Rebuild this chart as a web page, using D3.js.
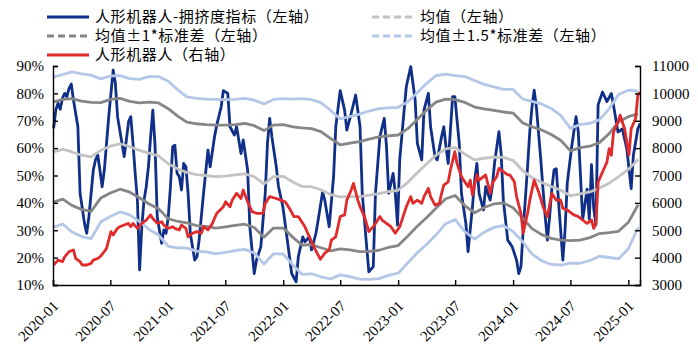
<!DOCTYPE html>
<html>
<head>
<meta charset="utf-8">
<script src="https://cdn.jsdelivr.net/npm/d3@7"></script>
<style>
  body { margin: 0; background: #fff; }
</style>
</head>
<body>
<div id="chart"></div>
<script>
// weekly data, week 0 = 2020-01-03
const firstWeek = new Date(2020, 0, 3);

// 人形机器人-拥挤度指标 (%), [week, value]
const crowding = [
  [0,67.2],[1,74],[2,76.4],[3,74.2],[4,78.2],[5,80],[6,78.8],[7,81.8],[8,83.4],[9,77.6],[11,67.8],[12,43.5],
  [14,32.5],[15,28.9],[16,34.9],[18,52],[19,55.7],[20,57.5],[21,52],[22,45.9],[23,52],[24,61.7],[25,71.5],
  [26,80],[27,88.5],[28,83.7],[29,71.5],[30,66.6],[32,56.9],[33,63],[34,69.7],[35,71.5],[36,61.7],[37,50.8],
  [38,41],[39,15.5],[40,31.3],[41,41],[42,45.9],[43,53.2],[44,64.2],[45,73.9],[46,61],[47,34.9],[49,25.2],
  [50,30.1],[51,28.9],[52,34.9],[53,45.9],[54,60.5],[55,61.1],[56,50.8],[57,49.6],[58,44.7],[59,54.4],
  [60,53.2],[61,43.5],[62,28.9],[64,19.1],[65,20.3],[66,26.4],[68,43.5],[70,59.3],[71,53.2],[73,64.2],
  [74,68.4],[76,75.1],[77,81],[79,80],[80,67.8],[82,64.8],[83,67.8],[85,58],[86,63],[88,52],[89,31.3],
  [91,14.2],[92,19],[94,24],[96,43.5],[97,61.7],[98,70.9],[99,64.2],[101,53.2],[102,46],[104,38.6],
  [106,26.4],[108,14.2],[110,11.2],[111,20.3],[113,27.6],[114,25.8],[116,27.6],[117,22.8],[119,28.9],
  [120,33.7],[122,44],[123,41],[125,31.3],[127,49.6],[128,67.8],[130,81],[132,73.9],[133,66.6],[135,72.7],
  [137,79.4],[139,67.8],[140,43.5],[142,24],[143,14.8],[145,16.7],[146,43.5],[148,64.2],[150,70.9],
  [151,60.5],[152,43.5],[153,47.1],[154,50.8],[155,43.5],[156,31.9],[157,55.7],[159,73.9],[160,82.5],
  [162,89.8],[164,77.6],[165,61.7],[167,55.7],[168,73.9],[170,80],[171,67.8],[173,56.9],[174,55.7],
  [176,64.2],[177,67.8],[178,60.5],[179,54.4],[181,78.8],[182,78.8],[184,61.7],[185,43.5],[187,32.5],
  [188,22.2],[190,38.6],[191,48.3],[192,54.4],[193,43.5],[195,37.4],[196,45.9],[198,41],[199,45.9],
  [200,54.4],[202,66],[203,58],[204,41],[206,26.4],[207,25.2],[208,24],[210,19.1],[211,14.2],[212,16.7],
  [213,30],[215,53.2],[216,66],[217,75],[218,81.2],[219,75],[221,55.7],[222,45],[223,35],[224,26.4],
  [225,35],[226,45],[227,52],[228,52.5],[229,41],[231,19.1],[232,30],[233,47.1],[235,60.5],[237,71.5],
  [238,66],[240,34],[242,45],[243,34],[244,54],[245,38],[246,32],[247,75.8],[249,80.5],[251,77],
  [253,80],[254,75.6],[256,65.9],[258,67],[260,59.8],[262,45.2],[263,57.4],[265,67],[266,69]
];

// 人形机器人 index (right axis), [week, value]
const robotIndex = [
  [0,3730],[2,3910],[4,3850],[5,4030],[7,4220],[9,4280],[10,3970],[12,3850],[13,3730],[15,3730],[17,3790],
  [18,3910],[20,3970],[21,4030],[23,4220],[24,4340],[26,4950],[27,4830],[29,5070],[30,5130],[32,5190],
  [34,5250],[35,5130],[36,5250],[38,5070],[40,5250],[42,5370],[44,5560],[45,5430],[47,5250],[49,5310],
  [50,5190],[52,5070],[54,5130],[55,5070],[57,5010],[58,5190],[60,5070],[61,4760],[63,4890],[65,4950],
  [67,4890],[68,5130],[70,5010],[72,5250],[74,5620],[77,5860],[78,6040],[80,5860],[81,6100],[83,6350],
  [85,6160],[86,6470],[88,6040],[90,5680],[92,5620],[95,5620],[96,5980],[98,6230],[101,6160],[103,6100],
  [105,6040],[107,5800],[109,5500],[111,5500],[114,5130],[116,4760],[118,4400],[121,3940],[123,4160],
  [125,4280],[126,4640],[128,4760],[130,5500],[132,5560],[133,6100],[135,6470],[136,6710],[138,6100],
  [139,5860],[141,5500],[143,4950],[145,5130],[146,5250],[148,5500],[149,5370],[151,5250],[153,5130],
  [155,4890],[157,5130],[158,5370],[160,5860],[162,6230],[163,5980],[165,6100],[167,5980],[168,6230],
  [170,6530],[171,6230],[173,5920],[175,5980],[176,6350],[177,6650],[179,6770],[180,7200],[182,7870],
  [183,7440],[185,6960],[186,6830],[188,6590],[189,6830],[190,6290],[192,7020],[193,6830],[195,6960],
  [196,7020],[198,6350],[199,6710],[201,6960],[202,7260],[204,7140],[206,7020],[207,7020],[209,6770],
  [210,6230],[212,5620],[213,4890],[215,5620],[216,6100],[218,6830],[220,6410],[222,5860],[224,5500],
  [226,6350],[228,6100],[230,6100],[231,5800],[233,5740],[235,5620],[236,5560],[238,5500],[241,5310],
  [242,5250],[244,5370],[245,5070],[246,5250],[247,6760],[249,7130],[251,7490],[252,7980],[253,7740],
  [254,8590],[256,8960],[257,9200],[259,8710],[261,7740],[262,8710],[264,9080],[265,9930],[266,10050]
];

// monthly band values, first month 2020-01
const bandStart = '2020-01';
const meanLine = [
  58.5,59.6,58.6,57.4,56.8,59.2,60.7,61.6,60.5,59.2,58.2,57.2,
  54.3,52.4,51.1,50.3,50.0,49.6,49.8,50.2,50.6,49.6,46.9,49.6,
  49.7,47.6,46.0,45.9,44.8,43.0,42.2,42.3,42.3,42.8,43.4,44.1,
  44.6,47.5,50.8,54.2,57.4,59.7,60.2,57.8,55.7,56.3,56.7,56.6,
  55.5,51.8,49.2,47.5,46.0,44.6,42.6,43.3,44.0,45.4,47.2,49.6,
  52.2,55.9
];
const stdDev = [
  18.3,18.2,19.5,19.8,19.9,17.4,17.1,16.6,16.6,17.3,18.6,19.3,
  20.1,19.2,18.4,18.6,18.6,18.8,18.6,18.4,18.4,18.6,19.5,18.8,
  18.9,20.2,21.4,21.2,21.2,20.5,19.0,19.5,20.1,20.5,20.7,20.4,
  20.2,19.6,19.5,19.6,19.4,18.2,17.5,18.9,19.3,18.0,17.1,16.6,
  17.3,17.4,18.6,19.1,19.0,18.2,16.4,16.9,16.7,16.6,18.1,20.0,
  19.3,16.6
];

const xTickLabels = ['2020-01','2020-07','2021-01','2021-07','2022-01','2022-07',
                     '2023-01','2023-07','2024-01','2024-07','2025-01'];
const leftTicks = [10, 20, 30, 40, 50, 60, 70, 80, 90];
const rightTicks = [3000, 4000, 5000, 6000, 7000, 8000, 9000, 10000, 11000];

const colors = {
  crowd: '#0f2f89',
  robot: '#e12b2b',
  mean: '#c3c3c3',
  sd1: '#868686',
  sd15: '#b4c7e7'
};

const width = 698, height = 363;
const plot = { left: 53, right: 640, top: 66, bottom: 285 };

const svg = d3.select('#chart')
  .append('svg')
  .attr('width', width)
  .attr('height', height)
  .style('background', '#fff');

const parseMonth = d3.timeParse('%Y-%m');
const weekDate = w => d3.timeDay.offset(firstWeek, w * 7);

const xScale = d3.scaleTime()
  .domain([new Date(2020, 0, 1), weekDate(266)])
  .range([plot.left, plot.right]);
const yLeft = d3.scaleLinear().domain([10, 90]).range([plot.bottom, plot.top]);
const yRight = d3.scaleLinear().domain([3000, 11000]).range([plot.bottom, plot.top]);

// bands
const months = meanLine.map((m, i) => d3.timeMonth.offset(parseMonth(bandStart), i));
const bandLine = k => d3.line()
  .x((d, i) => xScale(months[i]))
  .y((d, i) => yLeft(meanLine[i] + k * stdDev[i]));

const weekLine = yScale => d3.line()
  .x(d => xScale(weekDate(d[0])))
  .y(d => yScale(d[1]));

const lines = svg.append('g').attr('fill', 'none').attr('stroke-linejoin', 'round');

lines.append('path')
  .attr('d', weekLine(yLeft)(crowding))
  .attr('stroke', colors.crowd)
  .attr('stroke-width', 2.8);

[
  { k: 0, color: colors.mean },
  { k: 1, color: colors.sd1 },
  { k: -1, color: colors.sd1 },
  { k: 1.5, color: colors.sd15 },
  { k: -1.5, color: colors.sd15 }
].forEach(b => {
  lines.append('path')
    .attr('d', bandLine(b.k)(meanLine))
    .attr('stroke', b.color)
    .attr('stroke-width', 2.8);
});

lines.append('path')
  .attr('d', weekLine(yRight)(robotIndex))
  .attr('stroke', colors.robot)
  .attr('stroke-width', 2.8);

// axes
const serif = '"Liberation Serif", "Times New Roman", serif';

const styleAxis = g => {
  g.attr('font-family', serif).attr('font-size', 15);
  g.selectAll('path, line').attr('stroke', '#000').attr('stroke-width', 1.4);
  g.selectAll('text').attr('fill', '#000');
};

svg.append('g')
  .attr('transform', `translate(${plot.left},0)`)
  .call(d3.axisLeft(yLeft).tickValues(leftTicks).tickSize(-5).tickPadding(9).tickFormat(d => d + '%'))
  .call(styleAxis);

svg.append('g')
  .attr('transform', `translate(${plot.right},0)`)
  .call(d3.axisRight(yRight).tickValues(rightTicks).tickSize(-5).tickPadding(12).tickFormat(d3.format('d')))
  .call(styleAxis);

const xAxis = svg.append('g')
  .attr('transform', `translate(0,${plot.bottom})`)
  .call(d3.axisBottom(xScale).tickValues(xTickLabels.map(parseMonth)).tickSize(-5).tickFormat(d3.timeFormat('%Y-%m')))
  .call(styleAxis);

xAxis.selectAll('.tick text')
  .attr('x', 0)
  .attr('y', 0)
  .attr('dy', 0)
  .attr('text-anchor', 'end')
  .attr('transform', 'translate(6,22) rotate(-45)');

// legend
const legendItems = [
  { label: '人形机器人-拥挤度指标（左轴）', color: colors.crowd, dash: null, x: 47, y: 17 },
  { label: '均值（左轴）', color: colors.mean, dash: '7,4', x: 372, y: 17 },
  { label: '均值±1*标准差（左轴）', color: colors.sd1, dash: '7,4', x: 47, y: 36 },
  { label: '均值±1.5*标准差（左轴）', color: colors.sd15, dash: '7,4', x: 372, y: 36 },
  { label: '人形机器人（右轴）', color: colors.robot, dash: null, x: 47, y: 55 }
];

const legend = svg.append('g')
  .attr('font-family', '"Noto Sans CJK SC", "Noto Sans", sans-serif')
  .attr('font-size', 15)
  .attr('letter-spacing', 0.6);

legendItems.forEach(item => {
  legend.append('line')
    .attr('x1', item.x)
    .attr('x2', item.x + 42)
    .attr('y1', item.y)
    .attr('y2', item.y)
    .attr('stroke', item.color)
    .attr('stroke-width', 3)
    .attr('stroke-dasharray', item.dash);

  legend.append('text')
    .attr('x', item.x + 48)
    .attr('y', item.y)
    .attr('dy', '0.35em')
    .attr('fill', '#000')
    .text(item.label);
});
</script>
</body>
</html>
